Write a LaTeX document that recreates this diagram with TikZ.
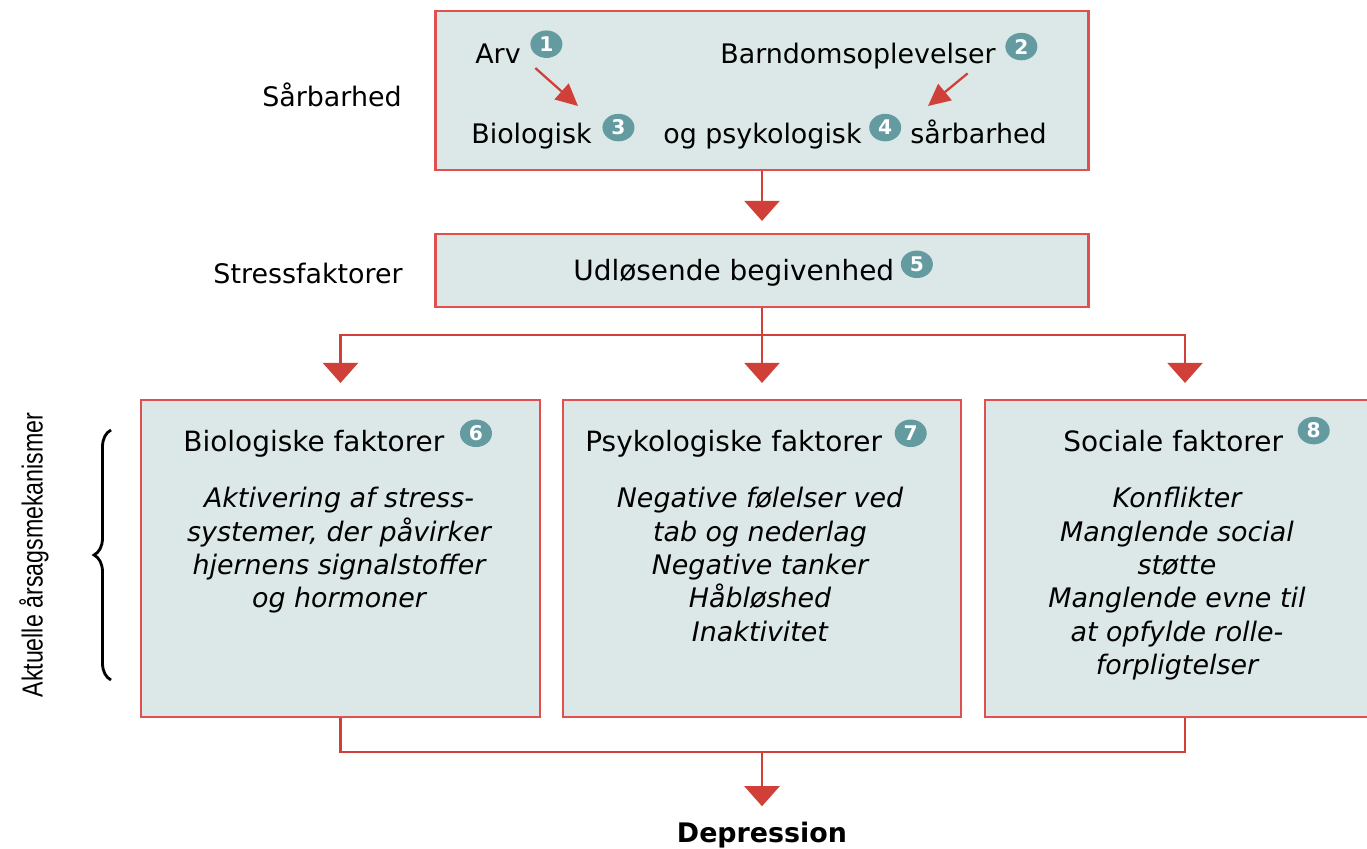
\documentclass[tikz,border=0pt]{standalone}
\usepackage{fontspec}
\setmainfont{DejaVu Sans}
\newfontfamily\sidefont{Liberation Sans}
\usetikzlibrary{shapes.geometric, arrows.meta, positioning, decorations.pathreplacing}
\definecolor{boxfill}{HTML}{DCE8E8}
\definecolor{boxline}{HTML}{E05050}
\definecolor{arrowred}{HTML}{D04038}
\definecolor{badgeteal}{HTML}{649BA0}
\tikzset{
    box/.style={draw=boxline, line width=1.2pt, fill=boxfill, inner sep=0pt},
    txt/.style={font=\fontsize{15.3}{19}\selectfont, inner sep=0pt, anchor=base west},
    head/.style={txt, font=\fontsize{15.9}{19}\selectfont},
    body/.style={font=\fontsize{15.3}{19}\selectfont\itshape, align=center, inner sep=0pt, anchor=north},
    badge/.style={ellipse, fill=badgeteal, text=white, font=\fontsize{11.5}{11.5}\selectfont\bfseries, minimum width=6.4mm, minimum height=5.5mm, inner sep=0pt},
    line/.style={arrowred, line width=1.3pt},
    arrow/.style={line, -{Triangle[width=7mm, length=4mm]}},
    smallarrow/.style={line, -{Triangle[width=4.2mm, length=4.4mm]}}
}

\begin{document}
\begin{tikzpicture}[x=0.2mm, y=-0.2mm]
    \useasboundingbox (0,0) rectangle (1367,848);

    % boxes
    \node[box, minimum width=130.6mm, minimum height=31.8mm] (sarb) at (762,90.5) {};
    \node[box, minimum width=130.6mm, minimum height=14.6mm] (stress) at (762,270.5) {};
    \node[box, minimum width=79.8mm, minimum height=63.4mm] (bio) at (340.5,558.5) {};
    \node[box, minimum width=79.6mm, minimum height=63.4mm] (psy) at (762,558.5) {};
    \node[box, minimum width=80mm, minimum height=63.4mm] (soc) at (1185,558.5) {};

    % left labels
    \node[txt, anchor=base east] (lsarb) at (402,106) {Sårbarhed};
    \node[txt, anchor=base east] (lstress) at (403,283) {Stressfaktorer};
    \node[font=\sidefont\fontsize{16.5}{17}\selectfont, rotate=90] (lakt) at (34,555) {\scalebox{0.8}[1]{Aktuelle årsagsmekanismer}};
    \draw[decorate, decoration={brace, amplitude=3.4mm}, line width=1.6pt] (111,680) -- (111,430);

    % vulnerability
    \node[txt] (arv) at (475,63) {Arv};
    \node[badge, right=1.8mm of arv, yshift=1.8mm] (b1) {1};
    \node[txt] (barn) at (720,63) {Barndomsoplevelser};
    \node[badge, right=1.8mm of barn, yshift=1.8mm] (b2) {2};
    \node[txt] (biol) at (471,143) {Biologisk};
    \node[badge, right=2mm of biol, yshift=1.6mm] (b3) {3};
    \node[txt] (psyk) at (663,143) {og psykologisk};
    \node[badge, right=1.4mm of psyk, yshift=1.6mm] (b4) {4};
    \node[txt] (sarbh) at (910,143) {sårbarhed};
    \coordinate (t1) at (578,106);
    \coordinate (t2) at (928,106);
    \draw[smallarrow, shorten <=1.4mm] ([xshift=1.8mm]arv.south east) -- (t1);
    \draw[smallarrow, shorten <=1.4mm] ([xshift=-4.6mm]barn.south east) -- (t2);

    % trigger
    \node[head] (udl) at (573,280) {Udløsende begivenhed};
    \node[badge, right=1.2mm of udl, yshift=1.6mm] (b5) {5};

    % factors
    \node[head] (tbio) at (183,451) {Biologiske faktorer};
    \node[badge, right=3mm of tbio, yshift=2mm] (b6) {6};
    \node[head] (tpsy) at (585,451) {Psykologiske faktorer};
    \node[badge, right=2.4mm of tpsy, yshift=2mm] (b7) {7};
    \node[head] (tsoc) at (1063,451) {Sociale faktorer};
    \node[badge, right=2.8mm of tsoc, yshift=2mm] (b8) {8};
    \node[body] (xbio) at (339,487) {Aktivering af stress-\\systemer, der påvirker\\hjernens signalstoffer\\og hormoner};
    \node[body] (xpsy) at (760,487) {Negative følelser ved\\tab og nederlag\\Negative tanker\\Håbløshed\\Inaktivitet};
    \node[body] (xsoc) at (1177,487) {Konflikter\\Manglende social\\støtte\\Manglende evne til\\at opfylde rolle-\\forpligtelser};

    \node[font=\fontsize{15.3}{19}\selectfont\bfseries, inner sep=0pt, anchor=base] (dep) at (762,842) {Depression};

    % connectors
    \coordinate (split) at (762,335);
    \coordinate (join) at (762,752);
    \draw[arrow, shorten >=2.4mm] (sarb.south) -- (stress.north);
    \draw[line] (stress.south) -- (split);
    \draw[arrow, shorten >=3.2mm] (split) -| (bio.north);
    \draw[arrow, shorten >=3.2mm] (split) -- (psy.north);
    \draw[arrow, shorten >=3.2mm] (split) -| (soc.north);
    \draw[line] (bio.south) |- (join) -| (soc.south);
    \draw[arrow, shorten >=3mm] (join) -- (dep);
\end{tikzpicture}
\end{document}
